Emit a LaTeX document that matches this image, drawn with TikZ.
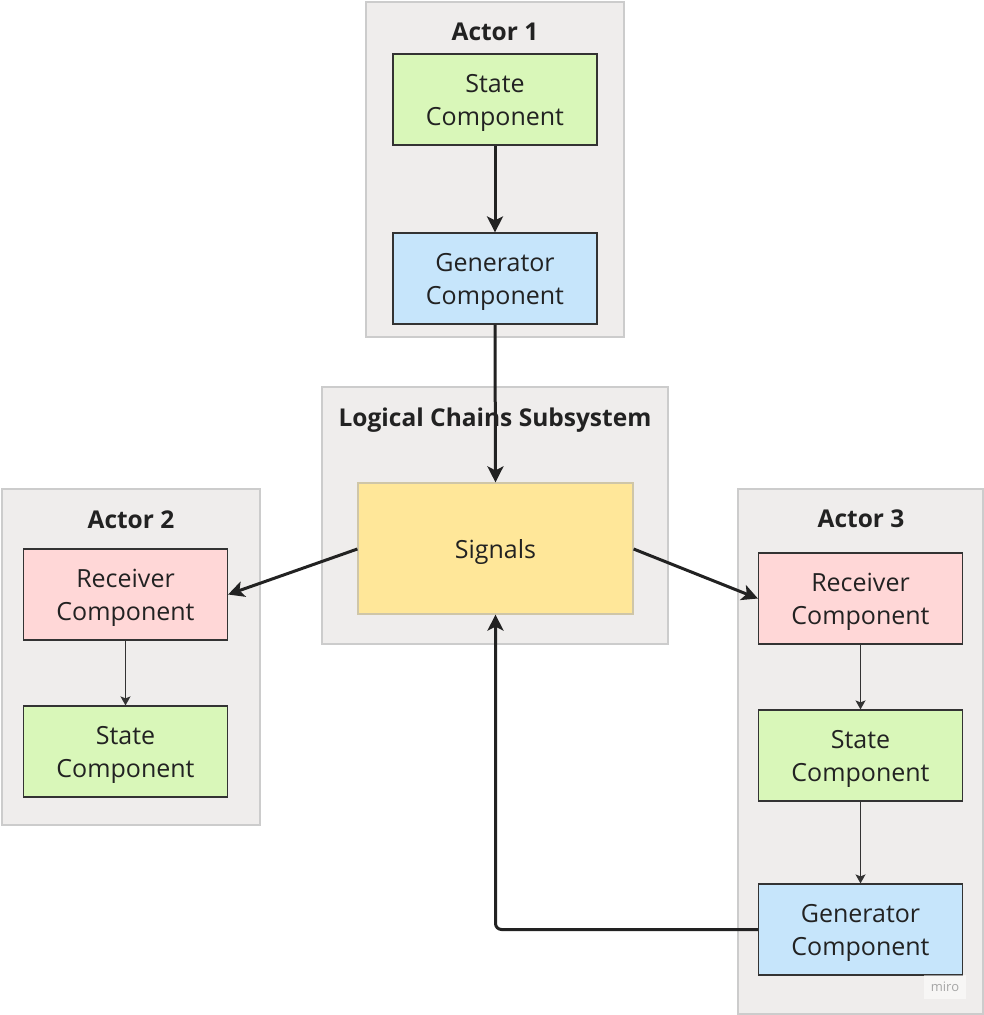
\documentclass[tikz,border=0pt]{standalone}
\usepackage{fontspec}
\setmainfont{Open Sans}
\usetikzlibrary{arrows.meta}
\definecolor{contfill}{HTML}{EFEDEC}
\definecolor{contdraw}{HTML}{CCCCCC}
\definecolor{stategreen}{HTML}{D9F7B9}
\definecolor{genblue}{HTML}{C6E5FB}
\definecolor{recpink}{HTML}{FFD7D7}
\definecolor{sigyellow}{HTML}{FFE799}
\definecolor{sigdraw}{HTML}{CFC6A8}
\definecolor{txt}{HTML}{222222}
\definecolor{boxdraw}{HTML}{333333}
\newcommand\mystrut{\rule{0pt}{25pt}}
\begin{document}
\begin{tikzpicture}[x=1pt,y=-1pt,
  container/.style={draw=contdraw,fill=contfill,line width=1.2pt},
  comp/.style={draw=boxdraw,line width=1.2pt,minimum width=204pt,minimum height=91pt,
    inner sep=0pt,align=center,text=txt,font=\fontsize{25}{32.5}\selectfont},
  ttl/.style={anchor=base,text=txt,font=\fontsize{24.5}{28}\selectfont\bfseries},
  bigarrow/.style={draw=txt,line width=3pt,-{Stealth[length=16pt,width=16pt,inset=4pt]}},
  smallarrow/.style={draw=boxdraw,line width=1.3pt,-{Stealth[length=9pt,width=10pt,inset=2pt]}}]
\useasboundingbox (0,0) rectangle (984,1015);
% containers
\draw[container] (366,2) rectangle (624,337);
\draw[container] (322,387) rectangle (668,644);
\draw[container] (2,489) rectangle (260,825);
\draw[container] (738,489) rectangle (983,1014);
\node[ttl] (t1) at (495,40) {Actor 1};
\node[ttl] (tl) at (495,426) {Logical Chains Subsystem};
\node[ttl] (t2) at (131,528) {Actor 2};
\node[ttl] (t3) at (861,527) {Actor 3};
% components
\node[comp,fill=stategreen] (s1) at (495,99.5) {\mystrut State\\Component};
\node[comp,fill=genblue] (g1) at (495,278.5) {\mystrut Generator\\Component};
\node[comp,fill=sigyellow,draw=sigdraw,minimum width=275pt,minimum height=131pt] (sig) at (495.5,548.5) {\mystrut Signals};
\node[comp,fill=recpink] (r2) at (125.5,594.5) {\mystrut Receiver\\Component};
\node[comp,fill=stategreen] (s2) at (125.5,751.5) {\mystrut State\\Component};
\node[comp,fill=recpink] (r3) at (860.5,598.5) {\mystrut Receiver\\Component};
\node[comp,fill=stategreen] (s3) at (860.5,755.5) {\mystrut State\\Component};
\node[comp,fill=genblue] (g3) at (860.5,929.5) {\mystrut Generator\\Component};
% miro mark
\node[fill=white,fill opacity=0.5,text opacity=1,text=black!35,font=\fontsize{13}{15}\selectfont,
  minimum width=42pt,minimum height=24pt] (miro) at (945,987) {miro};
% connectors
\draw[bigarrow] (s1.south) -- (g1.north);
\draw[bigarrow] (g1.south) -- (sig.north);
\draw[bigarrow] (sig.west |- 0,549) -- (r2.east);
\draw[bigarrow] (sig.east |- 0,549) -- (r3.west);
\draw[bigarrow,rounded corners=6pt] (g3.west) -| (sig.south);
\draw[smallarrow] (r2.south) -- (s2.north);
\draw[smallarrow] (r3.south) -- (s3.north);
\draw[smallarrow] (s3.south) -- (g3.north);
\end{tikzpicture}
\end{document}
